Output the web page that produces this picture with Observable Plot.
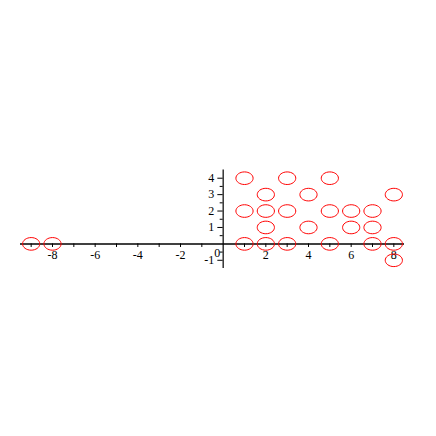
<!DOCTYPE html>
<html>
<head>
<meta charset="utf-8">
<script src="https://cdn.jsdelivr.net/npm/d3@7"></script>
<script src="https://cdn.jsdelivr.net/npm/@observablehq/plot@0.6"></script>
<style>
  html, body { margin: 0; padding: 0; background: #fff; }
  #chart svg { display: block; }
</style>
</head>
<body>
<div id="chart"></div>
<script>
// Point data (x, y)
const xs = [-9, -8, 1, 1, 1, 2, 2, 2, 2, 3, 3, 3, 4, 4, 5, 5, 5, 6, 6, 7, 7, 7, 8, 8, 8];
const ys = [0, 0, 4, 2, 0, 3, 2, 1, 0, 4, 2, 0, 3, 1, 4, 2, 0, 2, 1, 2, 1, 0, 3, 0, -1];

// Axis ticks
const xTickLabels = [-8, -6, -4, -2, 2, 4, 6, 8];
const xTicks = [-9, -8, -7, -6, -5, -4, -3, -2, -1, 1, 2, 3, 4, 5, 6, 7, 8];
const yTickLabels = [-1, 1, 2, 3, 4];
const yMinorTicks = [-0.5, 0.5, 1.5, 2.5, 3.5];

const points = xs.map((x, i) => ({x, y: ys[i]}));

// Custom ellipse symbol (Maple-style circle drawn in a non-square frame)
const ellipse = {
  draw(ctx) {
    const a = 8.6, b = 6.3, k = 0.5523;
    ctx.moveTo(a, 0);
    ctx.bezierCurveTo(a, b * k, a * k, b, 0, b);
    ctx.bezierCurveTo(-a * k, b, -a, b * k, -a, 0);
    ctx.bezierCurveTo(-a, -b * k, -a * k, -b, 0, -b);
    ctx.bezierCurveTo(a * k, -b, a, -b * k, a, 0);
    ctx.closePath();
  }
};

const fmt = d => (d < 0 ? "-" + Math.abs(d) : String(d));

const chart = Plot.plot({
  width: 436,
  height: 436,
  marginLeft: 20,
  marginRight: 32,
  marginTop: 169.5,
  marginBottom: 168,
  x: {domain: [-9.5, 8.5], axis: null},
  y: {domain: [-1.5, 4.5], axis: null},
  style: {fontFamily: "'Liberation Serif', 'Times New Roman', serif", fontSize: "12px", background: "#fff"},
  marks: [
    Plot.ruleY([0], {stroke: "#000", strokeWidth: 1.5}),
    Plot.ruleX([0], {stroke: "#000", strokeWidth: 1.2}),
    Plot.ruleX(xTicks, {x: d => d, y1: 0, y2: -0.22, stroke: "#000", strokeWidth: 1}),
    Plot.ruleY(yTickLabels, {y: d => d, x1: 0, x2: -0.25, stroke: "#000", strokeWidth: 1}),
    Plot.ruleY(yMinorTicks, {y: d => d, x1: 0, x2: -0.14, stroke: "#000", strokeWidth: 1}),
    Plot.text(xTickLabels, {x: d => d, y: 0, text: fmt, dy: 11, fill: "#000", fontSize: 12}),
    Plot.text(yTickLabels, {x: 0, y: d => d, text: fmt, dx: -9, textAnchor: "end", fill: "#000", fontSize: 12}),
    Plot.text([0], {x: 0, y: 0, text: d => String(d), dx: -6, dy: 9, fill: "#000", fontSize: 12}),
    Plot.dot(points, {x: "x", y: "y", symbol: ellipse, r: 8, stroke: "#ff0000", strokeWidth: 1, fill: "none"})
  ]
});

document.getElementById("chart").appendChild(chart);
</script>
</body>
</html>
